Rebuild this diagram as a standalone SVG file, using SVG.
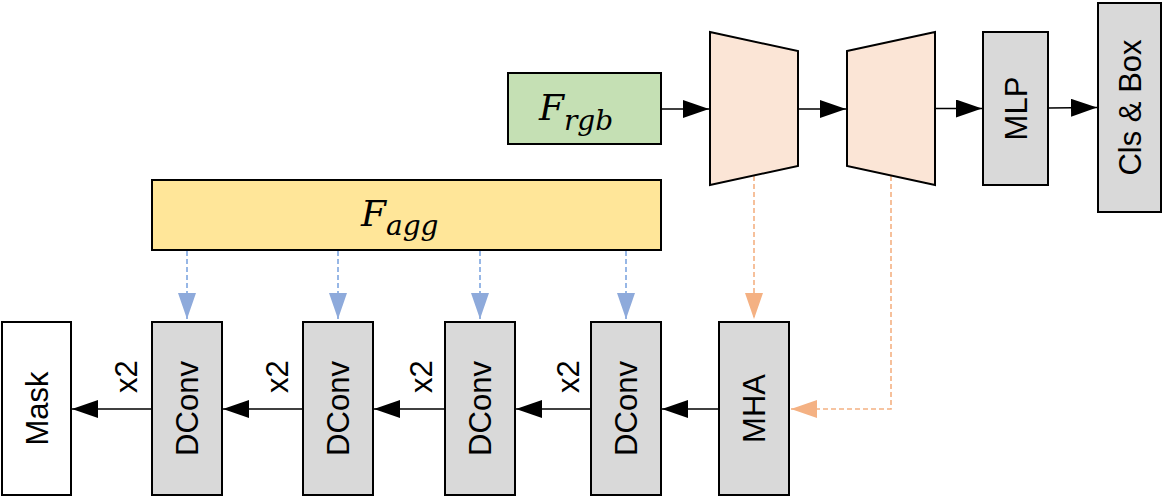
<svg xmlns="http://www.w3.org/2000/svg" width="1168" height="499" viewBox="0 0 1168 499">
<style>
.box{stroke:#000;stroke-width:2}
.gray{fill:#d9d9d9}
.lbl{font-family:"Liberation Sans",Arial,sans-serif;font-size:31px;fill:#000;text-anchor:middle}
.math{font-family:"DejaVu Serif","Liberation Serif",serif;font-style:italic;fill:#000}
.conn{fill:none;stroke:#000;stroke-width:1.6}
.blue{fill:none;stroke:#7ea6e0;stroke-width:1.6;stroke-dasharray:5 3}
.orange{fill:none;stroke:#f4b183;stroke-width:1.6;stroke-dasharray:5 3}
</style>
<defs>
<marker id="ab" markerUnits="userSpaceOnUse" markerWidth="26" markerHeight="18" refX="26" refY="9" orient="auto" viewBox="0 0 26 18"><path d="M0,0 L26,9 L0,18 z" fill="#000"/></marker>
<marker id="ablue" markerUnits="userSpaceOnUse" markerWidth="26" markerHeight="18" refX="26" refY="9" orient="auto" viewBox="0 0 26 18"><path d="M0,0 L26,9 L0,18 z" fill="#8eaadb"/></marker>
<marker id="aor" markerUnits="userSpaceOnUse" markerWidth="26" markerHeight="18" refX="26" refY="9" orient="auto" viewBox="0 0 26 18"><path d="M0,0 L26,9 L0,18 z" fill="#f4b183"/></marker>
</defs>

<g id="connectors">
<path class="conn" d="M661,109 L709,109" marker-end="url(#ab)"/>
<path class="conn" d="M798,109 L846,109" marker-end="url(#ab)"/>
<path class="conn" d="M935,108.5 L982,108.5" marker-end="url(#ab)"/>
<path class="conn" d="M1048,108 L1097,107.5" marker-end="url(#ab)"/>
<path class="conn" d="M719,409 L662,409" marker-end="url(#ab)"/>
<path class="conn" d="M591,409 L516,409" marker-end="url(#ab)"/>
<path class="conn" d="M445,409 L374,409" marker-end="url(#ab)"/>
<path class="conn" d="M303,409 L223,409" marker-end="url(#ab)"/>
<path class="conn" d="M152,409 L72,409" marker-end="url(#ab)"/>
<path class="blue" d="M187,251 L187,319" marker-end="url(#ablue)"/>
<path class="blue" d="M338,251 L338,319" marker-end="url(#ablue)"/>
<path class="blue" d="M480,251 L480,319" marker-end="url(#ablue)"/>
<path class="blue" d="M626,251 L626,319" marker-end="url(#ablue)"/>
<path class="orange" d="M754,176 L754,319" marker-end="url(#aor)"/>
<path class="orange" d="M891,176 L891,409 L791,409" marker-end="url(#aor)"/>
</g>

<g id="frgb">
<rect class="box" x="508" y="73" width="153" height="71" fill="#c5e0b4"/>
<text class="math" x="539" y="120" font-size="36">F<tspan font-size="28" dy="10">rgb</tspan></text>
</g>

<g id="encoder">
<polygon class="box" points="710,32 798,51 798,166 710,185" fill="#fbe5d6"/>
</g>
<g id="decoder">
<polygon class="box" points="847,51 935,32 935,185 847,166" fill="#fbe5d6"/>
</g>

<g id="mlp">
<rect class="box gray" x="983" y="32" width="65" height="153"/>
<text class="lbl" transform="translate(1026.5,108.5) rotate(-90)">MLP</text>
</g>

<g id="clsbox">
<rect class="box gray" x="1098" y="3" width="63" height="209"/>
<text class="lbl" transform="translate(1140.5,107.5) rotate(-90)">Cls &amp; Box</text>
</g>

<g id="fagg">
<rect class="box" x="152" y="180" width="509" height="70" fill="#ffe699"/>
<text class="math" x="361" y="226" font-size="36">F<tspan font-size="28" dy="9">agg</tspan></text>
</g>

<g id="mask">
<rect class="box" x="2" y="322" width="69" height="173" fill="#fff"/>
<text class="lbl" transform="translate(47.5,408.5) rotate(-90)">Mask</text>
</g>

<g id="dconv1">
<rect class="box gray" x="152" y="322" width="70" height="173"/>
<text class="lbl" transform="translate(198,408.5) rotate(-90)">DConv</text>
<text class="lbl" transform="translate(137,376.5) rotate(-90)">x2</text>
</g>

<g id="dconv2">
<rect class="box gray" x="303" y="322" width="70" height="173"/>
<text class="lbl" transform="translate(349,408.5) rotate(-90)">DConv</text>
<text class="lbl" transform="translate(288,376.5) rotate(-90)">x2</text>
</g>

<g id="dconv3">
<rect class="box gray" x="445" y="322" width="70" height="173"/>
<text class="lbl" transform="translate(491,408.5) rotate(-90)">DConv</text>
<text class="lbl" transform="translate(432,376.5) rotate(-90)">x2</text>
</g>

<g id="dconv4">
<rect class="box gray" x="591" y="322" width="70" height="173"/>
<text class="lbl" transform="translate(637,408.5) rotate(-90)">DConv</text>
<text class="lbl" transform="translate(579,376.5) rotate(-90)">x2</text>
</g>

<g id="mha">
<rect class="box gray" x="719" y="322" width="70" height="173"/>
<text class="lbl" transform="translate(765,408.5) rotate(-90)">MHA</text>
</g>
</svg>
